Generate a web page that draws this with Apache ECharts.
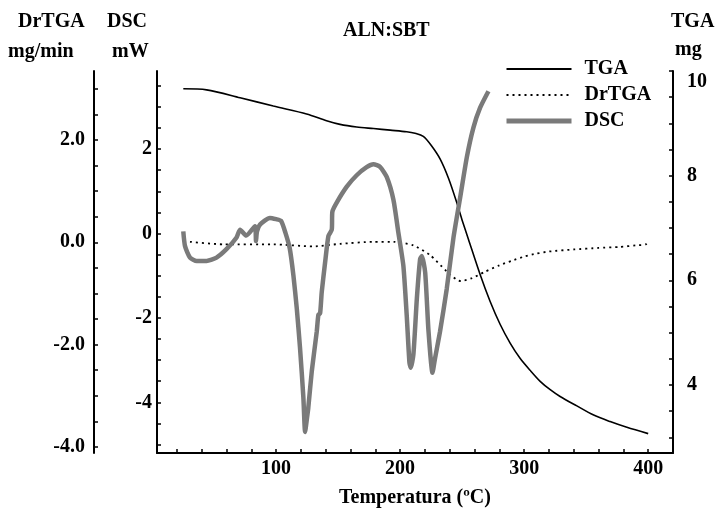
<!DOCTYPE html>
<html>
<head>
<meta charset="utf-8">
<script src="https://cdn.jsdelivr.net/npm/echarts@6/dist/echarts.min.js"></script>
<style>
  html, body { margin: 0; padding: 0; background: #fff; }
  #chart { width: 716px; height: 513px; }
</style>
</head>
<body>
<div id="chart"></div>
<script>
// temperatures (ºC) and readings
const tgaTemp = [25.2, 44, 71, 97.8, 124.6, 140.7, 151.6, 165, 178.5, 192, 205.3, 212, 218.7, 225, 232.2, 239, 245.6, 250, 255, 264.5, 272.5, 280.6, 288.7, 296.7, 304.8, 312.9, 321, 329, 342.5, 355.6, 369.3, 382.8, 400];
const tgaMg = [9.66, 9.64, 9.49, 9.33, 9.18, 9.05, 8.98, 8.93, 8.90, 8.87, 8.84, 8.81, 8.75, 8.58, 8.32, 7.95, 7.49, 7.15, 6.79, 6.11, 5.60, 5.16, 4.80, 4.51, 4.28, 4.07, 3.91, 3.78, 3.60, 3.43, 3.30, 3.19, 3.07];

const drTemp = [30.6, 57.5, 97.8, 130, 151.6, 178.5, 194.6, 210.7, 224.2, 237.6, 245.6, 249, 258, 268, 280, 290, 300, 310, 320, 340, 360, 377, 390, 398, 400];
const drVal = [0.01, -0.04, -0.04, -0.08, -0.03, 0.01, 0.01, -0.06, -0.25, -0.57, -0.73, -0.76, -0.70, -0.58, -0.45, -0.36, -0.28, -0.22, -0.18, -0.14, -0.11, -0.09, -0.06, -0.04, 0.02];

const dscTemp = [25.2, 26.6, 30.6, 36, 44, 52, 60, 68, 71, 76, 83, 83.8, 84.6, 87, 95, 100, 104, 107.5, 111, 114, 116.7, 119.3, 122, 123.4, 124.8, 126, 128.8, 132.8, 134.1, 135.5, 136.8, 139.5, 142.2, 144.9, 145.4, 149, 157, 165, 173, 178.5, 183.8, 189.2, 194.6, 198.6, 202.6, 205.3, 207.5, 208.6, 210.7, 213.5, 216.1, 217.5, 220.2, 222.9, 226.1, 228.2, 232.2, 237.6, 243, 248.4, 253.8, 259.1, 264.5, 271.2];
const dscMw = [0.05, -0.30, -0.57, -0.65, -0.65, -0.57, -0.37, -0.10, 0.09, -0.05, 0.17, -0.18, 0.05, 0.21, 0.37, 0.34, 0.30, 0.02, -0.35, -1.0, -1.78, -2.71, -3.88, -4.70, -4.40, -4.12, -3.26, -2.32, -1.93, -1.89, -1.39, -0.69, -0.06, 0.09, 0.52, 0.74, 1.11, 1.38, 1.57, 1.64, 1.58, 1.34, 0.80, 0.02, -0.76, -1.93, -3.05, -3.18, -2.87, -1.54, -0.61, -0.53, -0.92, -2.32, -3.30, -2.95, -2.32, -1.31, -0.10, 0.85, 1.81, 2.51, 2.98, 3.37];

const xLabels = [100, 200, 300, 400];
const xTicks = [20, 40, 60, 80, 100, 120, 140, 160, 180, 200, 220, 240, 260, 280, 300, 320, 340, 360, 380, 400];
const dscLabels = [-4, -2, 0, 2];
const dscTicks = [-5, -4.5, -4, -3.5, -3, -2.5, -2, -1.5, -1, -0.5, 0, 0.5, 1, 1.5, 2, 2.5, 3, 3.5];
const drLabels = [-4, -2, 0, 2];
const drTicks = [-4, -3.5, -3, -2.5, -2, -1.5, -1, -0.5, 0, 0.5, 1, 1.5, 2, 2.5, 3];
const tgaLabels = [4, 6, 8, 10];
const tgaTicks = [3, 3.5, 4, 4.5, 5, 5.5, 6, 6.5, 7, 7.5, 8, 8.5, 9, 9.5, 10];

const zip = (a, b) => a.map((t, i) => [t, b[i]]);

const FONT = 'Liberation Serif';
const lbl = { color: '#000', fontFamily: FONT, fontWeight: 'bold', fontSize: 20 };
const axisLine = { show: true, onZero: false, lineStyle: { color: '#000', width: 2 } };
const tick = (vals) => ({ show: true, inside: true, length: 4, customValues: vals, lineStyle: { color: '#000', width: 1.5 } });
const txt = (s, left, top) => ({ type: 'text', left, top, style: { text: s, font: `bold 20px "${FONT}"`, fill: '#000' } });

const myChart = echarts.init(document.getElementById('chart'));
myChart.setOption({
  animation: false,
  grid: { left: 157, right: 43, top: 71, bottom: 57 },
  legend: {
    data: [
      { name: 'TGA' },
      { name: 'DrTGA' },
      { name: 'DSC', lineStyle: { width: 5 } }
    ],
    orient: 'vertical',
    left: 504,
    top: 59,
    padding: 0,
    itemWidth: 65,
    itemHeight: 20,
    itemGap: 6,
    itemStyle: { opacity: 0 },
    textStyle: { ...lbl, padding: [0, 0, 0, 8] }
  },
  graphic: [
    txt('DrTGA', 18, 12),
    txt('mg/min', 8, 42),
    txt('DSC', 107, 12),
    txt('mW', 112, 42),
    txt('ALN:SBT', 343, 21),
    txt('TGA', 671, 12),
    txt('mg', 675, 40)
  ],
  xAxis: {
    type: 'value',
    min: 4,
    max: 420,
    name: 'Temperatura (ºC)',
    nameLocation: 'middle',
    nameGap: 35,
    nameTextStyle: lbl,
    axisLine,
    axisTick: tick(xTicks),
    axisLabel: { ...lbl, margin: 6, customValues: xLabels },
    splitLine: { show: false }
  },
  yAxis: [
    {
      type: 'value', position: 'left', min: -5.2, max: 3.85,
      axisLine, axisTick: tick(dscTicks),
      axisLabel: { ...lbl, margin: 5, customValues: dscLabels },
      splitLine: { show: false }
    },
    {
      type: 'value', position: 'left', offset: 63, min: -4.12, max: 3.35,
      axisLine, axisTick: tick(drTicks),
      axisLabel: { ...lbl, margin: 9, customValues: drLabels, formatter: (v) => v.toFixed(1) },
      splitLine: { show: false }
    },
    {
      type: 'value', position: 'right', min: 2.7, max: 10,
      axisLine, axisTick: tick(tgaTicks),
      axisLabel: {
        ...lbl, margin: 14, customValues: tgaLabels,
        formatter: (v) => (v === 10 ? '{top|10}' : String(v)),
        rich: { top: { ...lbl, padding: [22, 0, 0, 0] } }
      },
      splitLine: { show: false }
    }
  ],
  series: [
    {
      name: 'TGA', type: 'line', yAxisIndex: 2, symbol: 'none', smooth: 0.3,
      lineStyle: { color: '#000', width: 1.6 }, itemStyle: { color: '#000' },
      data: zip(tgaTemp, tgaMg)
    },
    {
      name: 'DrTGA', type: 'line', yAxisIndex: 1, symbol: 'none', smooth: 0.2,
      lineStyle: { color: '#000', width: 1.8, type: [2, 4] }, itemStyle: { color: '#000' },
      data: zip(drTemp, drVal)
    },
    {
      name: 'DSC', type: 'line', yAxisIndex: 0, symbol: 'none', smooth: 0.2,
      lineStyle: { color: '#7a7a7a', width: 4.5 }, itemStyle: { color: '#7a7a7a' },
      data: zip(dscTemp, dscMw)
    }
  ]
});
</script>
</body>
</html>
